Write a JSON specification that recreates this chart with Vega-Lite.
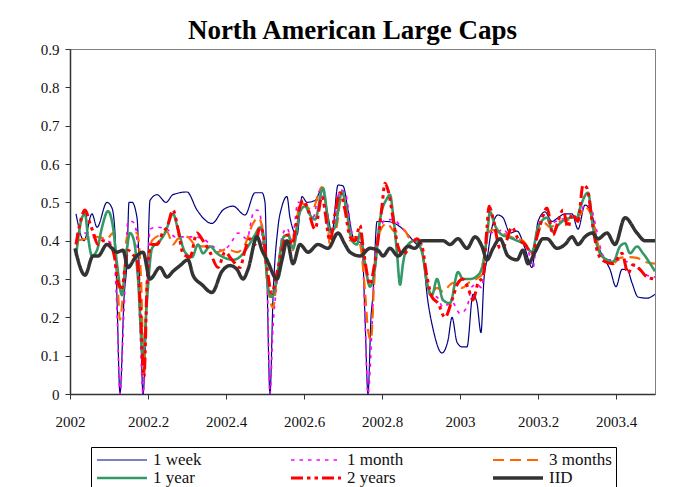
{
"$schema":"https://vega.github.io/schema/vega-lite/v6.json",
"width":585,"height":345,
"autosize":{"type":"none"},
"padding":{"left":70,"top":49,"right":36,"bottom":93},
"background":"white",
"title":{"text":"North American Large Caps","font":"Liberation Serif","fontSize":27,"fontWeight":"bold","color":"#000","anchor":"middle","offset":-3,"dx":-10},
"datasets":{"d":[
{"s":"1 week","t":2002.0154,"v":0.47},{"s":"1 week","t":2002.0359,"v":0.40},{"s":"1 week","t":2002.0564,"v":0.47},{"s":"1 week","t":2002.0692,"v":0.435},{"s":"1 week","t":2002.0949,"v":0.50},{"s":"1 week","t":2002.1077,"v":0.485},{"s":"1 week","t":2002.1154,"v":0.42},{"s":"1 week","t":2002.1205,"v":0.25},{"s":"1 week","t":2002.1282,"v":0},{"s":"1 week","t":2002.1385,"v":0.25},{"s":"1 week","t":2002.1462,"v":0.35},{"s":"1 week","t":2002.1513,"v":0.50},{"s":"1 week","t":2002.1590,"v":0.50},{"s":"1 week","t":2002.1718,"v":0.46},{"s":"1 week","t":2002.1795,"v":0.26},{"s":"1 week","t":2002.1872,"v":0},{"s":"1 week","t":2002.1974,"v":0.26},{"s":"1 week","t":2002.2051,"v":0.505},{"s":"1 week","t":2002.2231,"v":0.52},{"s":"1 week","t":2002.2462,"v":0.50},{"s":"1 week","t":2002.2641,"v":0.52},{"s":"1 week","t":2002.3,"v":0.527},{"s":"1 week","t":2002.3256,"v":0.48},{"s":"1 week","t":2002.3641,"v":0.445},{"s":"1 week","t":2002.3923,"v":0.48},{"s":"1 week","t":2002.4179,"v":0.49},{"s":"1 week","t":2002.4487,"v":0.467},{"s":"1 week","t":2002.4744,"v":0.525},{"s":"1 week","t":2002.4923,"v":0.525},{"s":"1 week","t":2002.5,"v":0.50},{"s":"1 week","t":2002.5051,"v":0.30},{"s":"1 week","t":2002.5128,"v":0},{"s":"1 week","t":2002.5205,"v":0.25},{"s":"1 week","t":2002.5333,"v":0.435},{"s":"1 week","t":2002.5436,"v":0.49},{"s":"1 week","t":2002.5564,"v":0.515},{"s":"1 week","t":2002.5641,"v":0.46},{"s":"1 week","t":2002.5821,"v":0.415},{"s":"1 week","t":2002.5949,"v":0.515},{"s":"1 week","t":2002.6077,"v":0.50},{"s":"1 week","t":2002.6282,"v":0.505},{"s":"1 week","t":2002.6462,"v":0.535},{"s":"1 week","t":2002.6590,"v":0.48},{"s":"1 week","t":2002.6718,"v":0.42},{"s":"1 week","t":2002.6872,"v":0.545},{"s":"1 week","t":2002.7,"v":0.543},{"s":"1 week","t":2002.7128,"v":0.48},{"s":"1 week","t":2002.7256,"v":0.41},{"s":"1 week","t":2002.7359,"v":0.40},{"s":"1 week","t":2002.7487,"v":0.39},{"s":"1 week","t":2002.7564,"v":0.20},{"s":"1 week","t":2002.7641,"v":0},{"s":"1 week","t":2002.7718,"v":0.20},{"s":"1 week","t":2002.7769,"v":0.26},{"s":"1 week","t":2002.7872,"v":0.45},{"s":"1 week","t":2002.8128,"v":0.45},{"s":"1 week","t":2002.8538,"v":0.43},{"s":"1 week","t":2002.8795,"v":0.40},{"s":"1 week","t":2002.9026,"v":0.37},{"s":"1 week","t":2002.9179,"v":0.24},{"s":"1 week","t":2002.9308,"v":0.17},{"s":"1 week","t":2002.9538,"v":0.107},{"s":"1 week","t":2002.9692,"v":0.14},{"s":"1 week","t":2002.9795,"v":0.20},{"s":"1 week","t":2002.9923,"v":0.135},{"s":"1 week","t":2003.0051,"v":0.123},{"s":"1 week","t":2003.0179,"v":0.123},{"s":"1 week","t":2003.0333,"v":0.26},{"s":"1 week","t":2003.0436,"v":0.237},{"s":"1 week","t":2003.0538,"v":0.16},{"s":"1 week","t":2003.0615,"v":0.30},{"s":"1 week","t":2003.0692,"v":0.35},{"s":"1 week","t":2003.0821,"v":0.435},{"s":"1 week","t":2003.0974,"v":0.467},{"s":"1 week","t":2003.1103,"v":0.46},{"s":"1 week","t":2003.1282,"v":0.42},{"s":"1 week","t":2003.1462,"v":0.425},{"s":"1 week","t":2003.1667,"v":0.38},{"s":"1 week","t":2003.1846,"v":0.33},{"s":"1 week","t":2003.2,"v":0.45},{"s":"1 week","t":2003.2179,"v":0.475},{"s":"1 week","t":2003.2359,"v":0.45},{"s":"1 week","t":2003.2513,"v":0.46},{"s":"1 week","t":2003.2692,"v":0.47},{"s":"1 week","t":2003.2872,"v":0.47},{"s":"1 week","t":2003.3026,"v":0.43},{"s":"1 week","t":2003.3205,"v":0.493},{"s":"1 week","t":2003.3385,"v":0.467},{"s":"1 week","t":2003.3538,"v":0.39},{"s":"1 week","t":2003.3718,"v":0.35},{"s":"1 week","t":2003.3846,"v":0.325},{"s":"1 week","t":2003.4,"v":0.28},{"s":"1 week","t":2003.4154,"v":0.325},{"s":"1 week","t":2003.4282,"v":0.325},{"s":"1 week","t":2003.4410,"v":0.29},{"s":"1 week","t":2003.4564,"v":0.253},{"s":"1 week","t":2003.4795,"v":0.25},{"s":"1 week","t":2003.5,"v":0.26},
{"s":"1 month","t":2002.0154,"v":0.415},{"s":"1 month","t":2002.0436,"v":0.42},{"s":"1 month","t":2002.0692,"v":0.41},{"s":"1 month","t":2002.0949,"v":0.40},{"s":"1 month","t":2002.1103,"v":0.39},{"s":"1 month","t":2002.1205,"v":0.22},{"s":"1 month","t":2002.1282,"v":0},{"s":"1 month","t":2002.1385,"v":0.22},{"s":"1 month","t":2002.1487,"v":0.45},{"s":"1 month","t":2002.1590,"v":0.45},{"s":"1 month","t":2002.1692,"v":0.43},{"s":"1 month","t":2002.1795,"v":0.175},{"s":"1 month","t":2002.1872,"v":0},{"s":"1 month","t":2002.1974,"v":0.26},{"s":"1 month","t":2002.2051,"v":0.43},{"s":"1 month","t":2002.2231,"v":0.435},{"s":"1 month","t":2002.2487,"v":0.43},{"s":"1 month","t":2002.2692,"v":0.41},{"s":"1 month","t":2002.2897,"v":0.41},{"s":"1 month","t":2002.3154,"v":0.41},{"s":"1 month","t":2002.3410,"v":0.405},{"s":"1 month","t":2002.3667,"v":0.385},{"s":"1 month","t":2002.3897,"v":0.375},{"s":"1 month","t":2002.4103,"v":0.39},{"s":"1 month","t":2002.4308,"v":0.42},{"s":"1 month","t":2002.4538,"v":0.405},{"s":"1 month","t":2002.4692,"v":0.47},{"s":"1 month","t":2002.4795,"v":0.48},{"s":"1 month","t":2002.4872,"v":0.47},{"s":"1 month","t":2002.4949,"v":0.385},{"s":"1 month","t":2002.5051,"v":0.305},{"s":"1 month","t":2002.5128,"v":0},{"s":"1 month","t":2002.5205,"v":0.175},{"s":"1 month","t":2002.5308,"v":0.29},{"s":"1 month","t":2002.5436,"v":0.41},{"s":"1 month","t":2002.5564,"v":0.433},{"s":"1 month","t":2002.5692,"v":0.40},{"s":"1 month","t":2002.5846,"v":0.50},{"s":"1 month","t":2002.6026,"v":0.50},{"s":"1 month","t":2002.6231,"v":0.46},{"s":"1 month","t":2002.6410,"v":0.532},{"s":"1 month","t":2002.6590,"v":0.44},{"s":"1 month","t":2002.6718,"v":0.42},{"s":"1 month","t":2002.6923,"v":0.532},{"s":"1 month","t":2002.7051,"v":0.527},{"s":"1 month","t":2002.7231,"v":0.42},{"s":"1 month","t":2002.7359,"v":0.40},{"s":"1 month","t":2002.7487,"v":0.385},{"s":"1 month","t":2002.7564,"v":0.20},{"s":"1 month","t":2002.7641,"v":0},{"s":"1 month","t":2002.7744,"v":0.175},{"s":"1 month","t":2002.7821,"v":0.357},{"s":"1 month","t":2002.7949,"v":0.435},{"s":"1 month","t":2002.8128,"v":0.455},{"s":"1 month","t":2002.8282,"v":0.455},{"s":"1 month","t":2002.8538,"v":0.43},{"s":"1 month","t":2002.8795,"v":0.40},{"s":"1 month","t":2002.8974,"v":0.40},{"s":"1 month","t":2002.9103,"v":0.33},{"s":"1 month","t":2002.9231,"v":0.258},{"s":"1 month","t":2002.9410,"v":0.253},{"s":"1 month","t":2002.9564,"v":0.227},{"s":"1 month","t":2002.9795,"v":0.24},{"s":"1 month","t":2003.0,"v":0.21},{"s":"1 month","t":2003.0179,"v":0.227},{"s":"1 month","t":2003.0308,"v":0.28},{"s":"1 month","t":2003.0436,"v":0.285},{"s":"1 month","t":2003.0564,"v":0.277},{"s":"1 month","t":2003.0641,"v":0.375},{"s":"1 month","t":2003.0769,"v":0.42},{"s":"1 month","t":2003.0974,"v":0.423},{"s":"1 month","t":2003.1103,"v":0.43},{"s":"1 month","t":2003.1282,"v":0.41},{"s":"1 month","t":2003.1487,"v":0.405},{"s":"1 month","t":2003.1718,"v":0.385},{"s":"1 month","t":2003.1872,"v":0.33},{"s":"1 month","t":2003.2,"v":0.435},{"s":"1 month","t":2003.2179,"v":0.467},{"s":"1 month","t":2003.2308,"v":0.445},{"s":"1 month","t":2003.2564,"v":0.455},{"s":"1 month","t":2003.2821,"v":0.46},{"s":"1 month","t":2003.3026,"v":0.462},{"s":"1 month","t":2003.3205,"v":0.493},{"s":"1 month","t":2003.3333,"v":0.49},{"s":"1 month","t":2003.3513,"v":0.423},{"s":"1 month","t":2003.3641,"v":0.367},{"s":"1 month","t":2003.3795,"v":0.35},{"s":"1 month","t":2003.4051,"v":0.35},{"s":"1 month","t":2003.4282,"v":0.345},{"s":"1 month","t":2003.4538,"v":0.33},{"s":"1 month","t":2003.4795,"v":0.31},{"s":"1 month","t":2003.5,"v":0.305},
{"s":"3 months","t":2002.0154,"v":0.40},{"s":"3 months","t":2002.0436,"v":0.405},{"s":"3 months","t":2002.0692,"v":0.41},{"s":"3 months","t":2002.0949,"v":0.405},{"s":"3 months","t":2002.1103,"v":0.42},{"s":"3 months","t":2002.1205,"v":0.32},{"s":"3 months","t":2002.1282,"v":0.193},{"s":"3 months","t":2002.1359,"v":0.263},{"s":"3 months","t":2002.1462,"v":0.41},{"s":"3 months","t":2002.1590,"v":0.42},{"s":"3 months","t":2002.1718,"v":0.42},{"s":"3 months","t":2002.1821,"v":0.305},{"s":"3 months","t":2002.1897,"v":0.055},{"s":"3 months","t":2002.1974,"v":0.305},{"s":"3 months","t":2002.2103,"v":0.40},{"s":"3 months","t":2002.2308,"v":0.415},{"s":"3 months","t":2002.2487,"v":0.423},{"s":"3 months","t":2002.2641,"v":0.39},{"s":"3 months","t":2002.2769,"v":0.405},{"s":"3 months","t":2002.3,"v":0.41},{"s":"3 months","t":2002.3256,"v":0.385},{"s":"3 months","t":2002.3513,"v":0.385},{"s":"3 months","t":2002.3769,"v":0.37},{"s":"3 months","t":2002.4026,"v":0.378},{"s":"3 months","t":2002.4282,"v":0.37},{"s":"3 months","t":2002.4487,"v":0.39},{"s":"3 months","t":2002.4692,"v":0.445},{"s":"3 months","t":2002.4821,"v":0.46},{"s":"3 months","t":2002.4923,"v":0.44},{"s":"3 months","t":2002.5,"v":0.35},{"s":"3 months","t":2002.5128,"v":0.245},{"s":"3 months","t":2002.5205,"v":0.225},{"s":"3 months","t":2002.5308,"v":0.305},{"s":"3 months","t":2002.5436,"v":0.40},{"s":"3 months","t":2002.5590,"v":0.423},{"s":"3 months","t":2002.5718,"v":0.375},{"s":"3 months","t":2002.5897,"v":0.50},{"s":"3 months","t":2002.6026,"v":0.493},{"s":"3 months","t":2002.6205,"v":0.48},{"s":"3 months","t":2002.6462,"v":0.54},{"s":"3 months","t":2002.6590,"v":0.47},{"s":"3 months","t":2002.6667,"v":0.385},{"s":"3 months","t":2002.6846,"v":0.44},{"s":"3 months","t":2002.6974,"v":0.527},{"s":"3 months","t":2002.7128,"v":0.45},{"s":"3 months","t":2002.7179,"v":0.40},{"s":"3 months","t":2002.7308,"v":0.41},{"s":"3 months","t":2002.7436,"v":0.39},{"s":"3 months","t":2002.7564,"v":0.27},{"s":"3 months","t":2002.7641,"v":0.167},{"s":"3 months","t":2002.7718,"v":0.14},{"s":"3 months","t":2002.7795,"v":0.28},{"s":"3 months","t":2002.7897,"v":0.41},{"s":"3 months","t":2002.8128,"v":0.445},{"s":"3 months","t":2002.8333,"v":0.423},{"s":"3 months","t":2002.8538,"v":0.43},{"s":"3 months","t":2002.8769,"v":0.40},{"s":"3 months","t":2002.8974,"v":0.40},{"s":"3 months","t":2002.9103,"v":0.325},{"s":"3 months","t":2002.9231,"v":0.258},{"s":"3 months","t":2002.9410,"v":0.277},{"s":"3 months","t":2002.9564,"v":0.267},{"s":"3 months","t":2002.9744,"v":0.285},{"s":"3 months","t":2002.9821,"v":0.29},{"s":"3 months","t":2003.0051,"v":0.277},{"s":"3 months","t":2003.0256,"v":0.293},{"s":"3 months","t":2003.0462,"v":0.303},{"s":"3 months","t":2003.0590,"v":0.315},{"s":"3 months","t":2003.0692,"v":0.41},{"s":"3 months","t":2003.0821,"v":0.428},{"s":"3 months","t":2003.0974,"v":0.42},{"s":"3 months","t":2003.1205,"v":0.415},{"s":"3 months","t":2003.1410,"v":0.405},{"s":"3 months","t":2003.1615,"v":0.40},{"s":"3 months","t":2003.1846,"v":0.37},{"s":"3 months","t":2003.2,"v":0.423},{"s":"3 months","t":2003.2179,"v":0.445},{"s":"3 months","t":2003.2308,"v":0.435},{"s":"3 months","t":2003.2564,"v":0.45},{"s":"3 months","t":2003.2821,"v":0.456},{"s":"3 months","t":2003.3077,"v":0.467},{"s":"3 months","t":2003.3205,"v":0.488},{"s":"3 months","t":2003.3385,"v":0.46},{"s":"3 months","t":2003.3538,"v":0.39},{"s":"3 months","t":2003.3718,"v":0.35},{"s":"3 months","t":2003.3897,"v":0.337},{"s":"3 months","t":2003.4103,"v":0.355},{"s":"3 months","t":2003.4308,"v":0.357},{"s":"3 months","t":2003.4538,"v":0.355},{"s":"3 months","t":2003.4744,"v":0.345},{"s":"3 months","t":2003.5,"v":0.34},
{"s":"1 year","t":2002.0154,"v":0.36},{"s":"1 year","t":2002.0308,"v":0.46},{"s":"1 year","t":2002.0385,"v":0.47},{"s":"1 year","t":2002.0462,"v":0.41},{"s":"1 year","t":2002.0564,"v":0.36},{"s":"1 year","t":2002.0692,"v":0.375},{"s":"1 year","t":2002.0821,"v":0.435},{"s":"1 year","t":2002.0974,"v":0.477},{"s":"1 year","t":2002.1103,"v":0.435},{"s":"1 year","t":2002.1205,"v":0.34},{"s":"1 year","t":2002.1333,"v":0.258},{"s":"1 year","t":2002.1436,"v":0.357},{"s":"1 year","t":2002.1538,"v":0.42},{"s":"1 year","t":2002.1641,"v":0.40},{"s":"1 year","t":2002.1744,"v":0.30},{"s":"1 year","t":2002.1872,"v":0.094},{"s":"1 year","t":2002.1974,"v":0.245},{"s":"1 year","t":2002.2103,"v":0.38},{"s":"1 year","t":2002.2308,"v":0.40},{"s":"1 year","t":2002.2436,"v":0.42},{"s":"1 year","t":2002.2641,"v":0.47},{"s":"1 year","t":2002.2769,"v":0.43},{"s":"1 year","t":2002.2949,"v":0.37},{"s":"1 year","t":2002.3128,"v":0.357},{"s":"1 year","t":2002.3282,"v":0.39},{"s":"1 year","t":2002.3410,"v":0.367},{"s":"1 year","t":2002.3590,"v":0.385},{"s":"1 year","t":2002.3769,"v":0.367},{"s":"1 year","t":2002.3974,"v":0.355},{"s":"1 year","t":2002.4179,"v":0.35},{"s":"1 year","t":2002.4410,"v":0.363},{"s":"1 year","t":2002.4564,"v":0.385},{"s":"1 year","t":2002.4744,"v":0.415},{"s":"1 year","t":2002.4872,"v":0.435},{"s":"1 year","t":2002.4949,"v":0.42},{"s":"1 year","t":2002.5077,"v":0.28},{"s":"1 year","t":2002.5179,"v":0.253},{"s":"1 year","t":2002.5308,"v":0.305},{"s":"1 year","t":2002.5462,"v":0.407},{"s":"1 year","t":2002.5590,"v":0.415},{"s":"1 year","t":2002.5718,"v":0.38},{"s":"1 year","t":2002.5897,"v":0.475},{"s":"1 year","t":2002.6026,"v":0.49},{"s":"1 year","t":2002.6154,"v":0.467},{"s":"1 year","t":2002.6282,"v":0.455},{"s":"1 year","t":2002.6487,"v":0.537},{"s":"1 year","t":2002.6667,"v":0.423},{"s":"1 year","t":2002.6795,"v":0.435},{"s":"1 year","t":2002.6974,"v":0.527},{"s":"1 year","t":2002.7103,"v":0.47},{"s":"1 year","t":2002.7231,"v":0.40},{"s":"1 year","t":2002.7359,"v":0.39},{"s":"1 year","t":2002.7436,"v":0.42},{"s":"1 year","t":2002.7564,"v":0.34},{"s":"1 year","t":2002.7692,"v":0.28},{"s":"1 year","t":2002.7821,"v":0.33},{"s":"1 year","t":2002.7949,"v":0.455},{"s":"1 year","t":2002.8128,"v":0.51},{"s":"1 year","t":2002.8205,"v":0.52},{"s":"1 year","t":2002.8282,"v":0.47},{"s":"1 year","t":2002.8385,"v":0.367},{"s":"1 year","t":2002.8462,"v":0.285},{"s":"1 year","t":2002.8538,"v":0.34},{"s":"1 year","t":2002.8667,"v":0.39},{"s":"1 year","t":2002.8846,"v":0.40},{"s":"1 year","t":2002.9026,"v":0.37},{"s":"1 year","t":2002.9154,"v":0.29},{"s":"1 year","t":2002.9282,"v":0.258},{"s":"1 year","t":2002.9410,"v":0.30},{"s":"1 year","t":2002.9564,"v":0.245},{"s":"1 year","t":2002.9744,"v":0.237},{"s":"1 year","t":2002.9949,"v":0.318},{"s":"1 year","t":2003.0077,"v":0.30},{"s":"1 year","t":2003.0256,"v":0.30},{"s":"1 year","t":2003.0462,"v":0.31},{"s":"1 year","t":2003.0564,"v":0.33},{"s":"1 year","t":2003.0692,"v":0.41},{"s":"1 year","t":2003.0769,"v":0.475},{"s":"1 year","t":2003.0897,"v":0.44},{"s":"1 year","t":2003.1077,"v":0.415},{"s":"1 year","t":2003.1231,"v":0.41},{"s":"1 year","t":2003.1462,"v":0.40},{"s":"1 year","t":2003.1667,"v":0.39},{"s":"1 year","t":2003.1846,"v":0.37},{"s":"1 year","t":2003.2,"v":0.435},{"s":"1 year","t":2003.2231,"v":0.46},{"s":"1 year","t":2003.2385,"v":0.423},{"s":"1 year","t":2003.2513,"v":0.44},{"s":"1 year","t":2003.2692,"v":0.455},{"s":"1 year","t":2003.2872,"v":0.46},{"s":"1 year","t":2003.3,"v":0.46},{"s":"1 year","t":2003.3077,"v":0.485},{"s":"1 year","t":2003.3282,"v":0.525},{"s":"1 year","t":2003.3410,"v":0.435},{"s":"1 year","t":2003.3590,"v":0.367},{"s":"1 year","t":2003.3769,"v":0.35},{"s":"1 year","t":2003.3923,"v":0.345},{"s":"1 year","t":2003.4103,"v":0.385},{"s":"1 year","t":2003.4231,"v":0.393},{"s":"1 year","t":2003.4359,"v":0.367},{"s":"1 year","t":2003.4538,"v":0.385},{"s":"1 year","t":2003.4692,"v":0.367},{"s":"1 year","t":2003.5,"v":0.32},
{"s":"2 years","t":2002.0154,"v":0.39},{"s":"2 years","t":2002.0256,"v":0.445},{"s":"2 years","t":2002.0385,"v":0.48},{"s":"2 years","t":2002.0513,"v":0.445},{"s":"2 years","t":2002.0590,"v":0.423},{"s":"2 years","t":2002.0718,"v":0.39},{"s":"2 years","t":2002.0846,"v":0.40},{"s":"2 years","t":2002.1026,"v":0.39},{"s":"2 years","t":2002.1154,"v":0.35},{"s":"2 years","t":2002.1231,"v":0.29},{"s":"2 years","t":2002.1333,"v":0.277},{"s":"2 years","t":2002.1410,"v":0.33},{"s":"2 years","t":2002.1487,"v":0.375},{"s":"2 years","t":2002.1615,"v":0.363},{"s":"2 years","t":2002.1718,"v":0.35},{"s":"2 years","t":2002.1795,"v":0.245},{"s":"2 years","t":2002.1897,"v":0.045},{"s":"2 years","t":2002.1974,"v":0.28},{"s":"2 years","t":2002.2077,"v":0.39},{"s":"2 years","t":2002.2231,"v":0.39},{"s":"2 years","t":2002.2385,"v":0.423},{"s":"2 years","t":2002.2487,"v":0.435},{"s":"2 years","t":2002.2641,"v":0.48},{"s":"2 years","t":2002.2769,"v":0.43},{"s":"2 years","t":2002.2897,"v":0.367},{"s":"2 years","t":2002.3077,"v":0.357},{"s":"2 years","t":2002.3256,"v":0.42},{"s":"2 years","t":2002.3410,"v":0.40},{"s":"2 years","t":2002.3590,"v":0.37},{"s":"2 years","t":2002.3795,"v":0.33},{"s":"2 years","t":2002.3974,"v":0.37},{"s":"2 years","t":2002.4154,"v":0.35},{"s":"2 years","t":2002.4359,"v":0.33},{"s":"2 years","t":2002.4487,"v":0.375},{"s":"2 years","t":2002.4615,"v":0.405},{"s":"2 years","t":2002.4744,"v":0.39},{"s":"2 years","t":2002.4872,"v":0.435},{"s":"2 years","t":2002.4949,"v":0.42},{"s":"2 years","t":2002.5051,"v":0.33},{"s":"2 years","t":2002.5179,"v":0.263},{"s":"2 years","t":2002.5282,"v":0.305},{"s":"2 years","t":2002.5436,"v":0.375},{"s":"2 years","t":2002.5564,"v":0.415},{"s":"2 years","t":2002.5692,"v":0.39},{"s":"2 years","t":2002.5846,"v":0.47},{"s":"2 years","t":2002.5974,"v":0.505},{"s":"2 years","t":2002.6103,"v":0.48},{"s":"2 years","t":2002.6282,"v":0.43},{"s":"2 years","t":2002.6462,"v":0.515},{"s":"2 years","t":2002.6667,"v":0.40},{"s":"2 years","t":2002.6795,"v":0.47},{"s":"2 years","t":2002.6923,"v":0.525},{"s":"2 years","t":2002.7051,"v":0.48},{"s":"2 years","t":2002.7179,"v":0.41},{"s":"2 years","t":2002.7308,"v":0.40},{"s":"2 years","t":2002.7436,"v":0.44},{"s":"2 years","t":2002.7513,"v":0.385},{"s":"2 years","t":2002.7615,"v":0.315},{"s":"2 years","t":2002.7692,"v":0.285},{"s":"2 years","t":2002.7795,"v":0.33},{"s":"2 years","t":2002.7897,"v":0.40},{"s":"2 years","t":2002.8,"v":0.49},{"s":"2 years","t":2002.8077,"v":0.55},{"s":"2 years","t":2002.8154,"v":0.532},{"s":"2 years","t":2002.8282,"v":0.46},{"s":"2 years","t":2002.8410,"v":0.385},{"s":"2 years","t":2002.8538,"v":0.363},{"s":"2 years","t":2002.8718,"v":0.385},{"s":"2 years","t":2002.8897,"v":0.405},{"s":"2 years","t":2002.9026,"v":0.385},{"s":"2 years","t":2002.9154,"v":0.305},{"s":"2 years","t":2002.9282,"v":0.253},{"s":"2 years","t":2002.9436,"v":0.237},{"s":"2 years","t":2002.9615,"v":0.20},{"s":"2 years","t":2002.9795,"v":0.245},{"s":"2 years","t":2002.9949,"v":0.29},{"s":"2 years","t":2003.0077,"v":0.30},{"s":"2 years","t":2003.0205,"v":0.277},{"s":"2 years","t":2003.0333,"v":0.245},{"s":"2 years","t":2003.0462,"v":0.29},{"s":"2 years","t":2003.0590,"v":0.305},{"s":"2 years","t":2003.0692,"v":0.435},{"s":"2 years","t":2003.0744,"v":0.49},{"s":"2 years","t":2003.0846,"v":0.46},{"s":"2 years","t":2003.1026,"v":0.38},{"s":"2 years","t":2003.1154,"v":0.39},{"s":"2 years","t":2003.1333,"v":0.435},{"s":"2 years","t":2003.1487,"v":0.405},{"s":"2 years","t":2003.1667,"v":0.39},{"s":"2 years","t":2003.1846,"v":0.367},{"s":"2 years","t":2003.2,"v":0.42},{"s":"2 years","t":2003.2231,"v":0.485},{"s":"2 years","t":2003.2385,"v":0.415},{"s":"2 years","t":2003.2513,"v":0.45},{"s":"2 years","t":2003.2641,"v":0.48},{"s":"2 years","t":2003.2769,"v":0.435},{"s":"2 years","t":2003.2872,"v":0.47},{"s":"2 years","t":2003.3026,"v":0.45},{"s":"2 years","t":2003.3154,"v":0.545},{"s":"2 years","t":2003.3256,"v":0.537},{"s":"2 years","t":2003.3410,"v":0.435},{"s":"2 years","t":2003.3538,"v":0.367},{"s":"2 years","t":2003.3718,"v":0.345},{"s":"2 years","t":2003.3923,"v":0.34},{"s":"2 years","t":2003.4154,"v":0.367},{"s":"2 years","t":2003.4308,"v":0.315},{"s":"2 years","t":2003.4436,"v":0.337},{"s":"2 years","t":2003.4615,"v":0.325},{"s":"2 years","t":2003.4795,"v":0.305},{"s":"2 years","t":2003.5,"v":0.30},
{"s":"IID","t":2002.0128,"v":0.38},{"s":"IID","t":2002.0385,"v":0.31},{"s":"IID","t":2002.0590,"v":0.36},{"s":"IID","t":2002.0718,"v":0.36},{"s":"IID","t":2002.0949,"v":0.39},{"s":"IID","t":2002.1077,"v":0.38},{"s":"IID","t":2002.1205,"v":0.37},{"s":"IID","t":2002.1359,"v":0.375},{"s":"IID","t":2002.1487,"v":0.33},{"s":"IID","t":2002.1667,"v":0.355},{"s":"IID","t":2002.1872,"v":0.37},{"s":"IID","t":2002.2051,"v":0.30},{"s":"IID","t":2002.2308,"v":0.33},{"s":"IID","t":2002.2487,"v":0.305},{"s":"IID","t":2002.2641,"v":0.32},{"s":"IID","t":2002.2821,"v":0.335},{"s":"IID","t":2002.3026,"v":0.35},{"s":"IID","t":2002.3154,"v":0.31},{"s":"IID","t":2002.3385,"v":0.285},{"s":"IID","t":2002.3641,"v":0.265},{"s":"IID","t":2002.3897,"v":0.32},{"s":"IID","t":2002.4103,"v":0.335},{"s":"IID","t":2002.4282,"v":0.325},{"s":"IID","t":2002.4436,"v":0.30},{"s":"IID","t":2002.4564,"v":0.325},{"s":"IID","t":2002.4795,"v":0.41},{"s":"IID","t":2002.4923,"v":0.375},{"s":"IID","t":2002.5051,"v":0.35},{"s":"IID","t":2002.5308,"v":0.30},{"s":"IID","t":2002.5436,"v":0.35},{"s":"IID","t":2002.5564,"v":0.40},{"s":"IID","t":2002.5718,"v":0.34},{"s":"IID","t":2002.5897,"v":0.39},{"s":"IID","t":2002.6103,"v":0.37},{"s":"IID","t":2002.6359,"v":0.39},{"s":"IID","t":2002.6615,"v":0.38},{"s":"IID","t":2002.6872,"v":0.42},{"s":"IID","t":2002.7051,"v":0.39},{"s":"IID","t":2002.7179,"v":0.37},{"s":"IID","t":2002.7436,"v":0.36},{"s":"IID","t":2002.7692,"v":0.38},{"s":"IID","t":2002.7897,"v":0.375},{"s":"IID","t":2002.8026,"v":0.36},{"s":"IID","t":2002.8205,"v":0.38},{"s":"IID","t":2002.8410,"v":0.36},{"s":"IID","t":2002.8667,"v":0.385},{"s":"IID","t":2002.8846,"v":0.38},{"s":"IID","t":2002.9026,"v":0.40},{"s":"IID","t":2002.9564,"v":0.40},{"s":"IID","t":2002.9744,"v":0.39},{"s":"IID","t":2002.9949,"v":0.405},{"s":"IID","t":2003.0179,"v":0.38},{"s":"IID","t":2003.0385,"v":0.41},{"s":"IID","t":2003.0564,"v":0.385},{"s":"IID","t":2003.0692,"v":0.35},{"s":"IID","t":2003.0846,"v":0.38},{"s":"IID","t":2003.1026,"v":0.405},{"s":"IID","t":2003.1231,"v":0.36},{"s":"IID","t":2003.1462,"v":0.35},{"s":"IID","t":2003.1615,"v":0.375},{"s":"IID","t":2003.1744,"v":0.34},{"s":"IID","t":2003.1923,"v":0.37},{"s":"IID","t":2003.2128,"v":0.405},{"s":"IID","t":2003.2231,"v":0.405},{"s":"IID","t":2003.2487,"v":0.38},{"s":"IID","t":2003.2692,"v":0.39},{"s":"IID","t":2003.2872,"v":0.41},{"s":"IID","t":2003.3026,"v":0.39},{"s":"IID","t":2003.3205,"v":0.41},{"s":"IID","t":2003.3385,"v":0.42},{"s":"IID","t":2003.3538,"v":0.405},{"s":"IID","t":2003.3769,"v":0.42},{"s":"IID","t":2003.3974,"v":0.39},{"s":"IID","t":2003.4231,"v":0.46},{"s":"IID","t":2003.4538,"v":0.42},{"s":"IID","t":2003.4744,"v":0.40},{"s":"IID","t":2003.5,"v":0.40}
]},
"data":{"name":"d"},
"mark":{"type":"line","interpolate":"monotone","clip":true},
"encoding":{
"x":{"field":"t","type":"quantitative","scale":{"domain":[2002,2003.5],"nice":false,"zero":false},
"axis":{"values":[2002,2002.2,2002.4,2002.6,2002.8,2003,2003.2,2003.4],"format":".1~f","title":null,"grid":false,"tickSize":5,"labelPadding":15,"labelFlush":false}},
"y":{"field":"v","type":"quantitative","scale":{"domain":[0,0.9],"nice":false},
"axis":{"values":[0,0.1,0.2,0.3,0.4,0.5,0.6,0.7,0.8,0.9],"format":".1~f","title":null,"grid":false,"tickSize":5,"labelPadding":6}},
"color":{"field":"s","type":"nominal","scale":{"domain":["1 week","1 month","3 months","1 year","2 years","IID"],"range":["#000080","#FF00FF","#FF6600","#339966","#FF0000","#333333"]},
"legend":{"orient":"none","legendX":21,"legendY":398,"direction":"horizontal","columns":3,"title":null,"symbolType":"stroke","symbolSize":2500,"clipHeight":18,"labelFont":"Liberation Serif","labelFontSize":17,"labelColor":"#111","columnPadding":87,"rowPadding":0,"strokeColor":"#000","padding":4,"labelOffset":4}},
"strokeDash":{"field":"s","type":"nominal","scale":{"domain":["1 week","1 month","3 months","1 year","2 years","IID"],"range":[[1,0],[3.5,5],[11,6],[1,0],[12,4,3.5,4,3.5,4],[1,0]]}},
"strokeWidth":{"field":"s","type":"nominal","scale":{"domain":["1 week","1 month","3 months","1 year","2 years","IID"],"range":[1.2,3.5,3.5,2.5,3.5,4.5]}}
},
"config":{
"view":{"stroke":"#808080","strokeWidth":1},
"axis":{"labelFont":"Liberation Serif","labelFontSize":15,"labelColor":"#111","domainColor":"#333","domainWidth":1.5,"tickColor":"#333","tickWidth":1}
}
}
